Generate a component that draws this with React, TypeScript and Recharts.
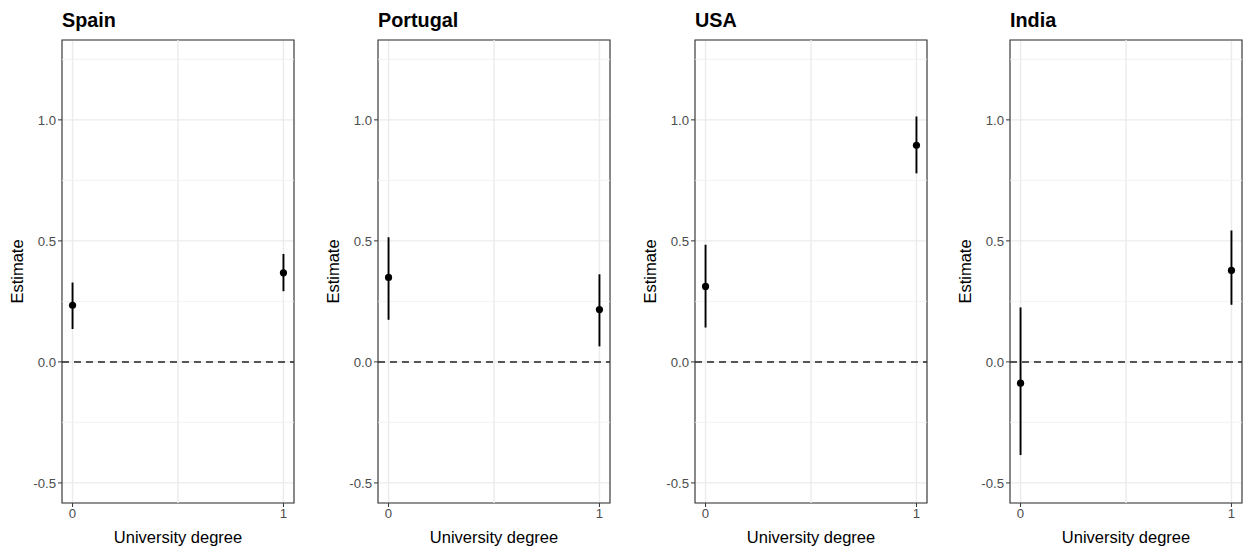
import { ScatterChart, Scatter, XAxis, YAxis, CartesianGrid, ReferenceLine, ReferenceArea, ErrorBar } from "recharts";

const countries = ["Spain", "Portugal", "USA", "India"];
const degree = [0, 1];

const estimates = [
  [0.234, 0.368],
  [0.349, 0.216],
  [0.312, 0.895],
  [-0.088, 0.378],
];
const lower = [
  [0.136, 0.292],
  [0.174, 0.064],
  [0.142, 0.779],
  [-0.385, 0.236],
];
const upper = [
  [0.328, 0.446],
  [0.515, 0.362],
  [0.484, 1.014],
  [0.225, 0.543],
];

const yTicks = [-0.5, 0, 0.5, 1];
const yMinor = [-0.25, 0.25, 0.75, 1.25];
const xTicks = [0, 1];
const xMinor = [0.5];

const X_DOMAIN: [number, number] = [-0.05, 1.05];
const Y_DOMAIN: [number, number] = [-0.583, 1.33];
const FONT = "'Liberation Sans', Arial, Helvetica, sans-serif";
const panelLeft = [0, 316, 633, 948];

function Panel({ idx }: { idx: number }) {
  const data = degree.map((d, j) => ({
    x: d,
    y: estimates[idx][j],
    err: [estimates[idx][j] - lower[idx][j], upper[idx][j] - estimates[idx][j]],
  }));

  return (
    <div style={{ position: "absolute", left: panelLeft[idx], top: 0, width: 316, height: 548 }}>
      <div
        style={{
          position: "absolute",
          left: 62,
          top: 11,
          fontFamily: FONT,
          fontWeight: "bold",
          fontSize: 19.8,
          lineHeight: "19.8px",
          color: "#000",
          whiteSpace: "nowrap",
        }}
      >
        {countries[idx]}
      </div>
      <ScatterChart width={316} height={548} margin={{ top: 40, right: 22, bottom: 0, left: 0 }}>
        <CartesianGrid stroke="#ebebeb" strokeWidth={1.4} />
        {yMinor.map((v) => (
          <ReferenceLine key={"ym" + v} y={v} stroke="#f0f0f0" strokeWidth={0.8} />
        ))}
        {xMinor.map((v) => (
          <ReferenceLine key={"xm" + v} x={v} stroke="#ebebeb" strokeWidth={1.4} />
        ))}
        <XAxis
          type="number"
          dataKey="x"
          domain={X_DOMAIN}
          ticks={xTicks}
          allowDataOverflow
          height={45}
          axisLine={false}
          tickLine={{ stroke: "#333" }}
          tickSize={4}
          tick={{ fill: "#4d4d4d", fontSize: 13.2, fontFamily: FONT }}
          label={{
            value: "University degree",
            position: "insideBottom",
            offset: 5,
            style: { fill: "#000", fontSize: 16.5, fontFamily: FONT },
          }}
        />
        <YAxis
          type="number"
          dataKey="y"
          domain={Y_DOMAIN}
          ticks={yTicks}
          allowDataOverflow
          width={62}
          axisLine={false}
          tickLine={{ stroke: "#333" }}
          tickSize={4}
          tickFormatter={(v: number) => v.toFixed(1)}
          tick={{ fill: "#4d4d4d", fontSize: 13.2, fontFamily: FONT }}
          label={{
            value: "Estimate",
            angle: -90,
            position: "insideLeft",
            offset: 17,
            style: { fill: "#000", fontSize: 16.5, fontFamily: FONT, textAnchor: "middle" },
          }}
        />
        <ReferenceLine y={0} stroke="#222" strokeWidth={1.5} strokeDasharray="7 5" />
        <Scatter data={data} fill="#000" isAnimationActive={false} shape={(p: any) => <circle cx={p.cx} cy={p.cy} r={3.6} fill="#000" />}>
          <ErrorBar dataKey="err" direction="y" width={0} stroke="#000" strokeWidth={1.9} isAnimationActive={false} />
        </Scatter>
        <ReferenceArea
          x1={X_DOMAIN[0]}
          x2={X_DOMAIN[1]}
          y1={Y_DOMAIN[0]}
          y2={Y_DOMAIN[1]}
          fill="none"
          fillOpacity={0}
          stroke="#333"
          strokeWidth={1.1}
          strokeOpacity={1}
        />
      </ScatterChart>
    </div>
  );
}

export default function App() {
  return (
    <div style={{ position: "absolute", left: 0, top: 0, width: 1247, height: 548, background: "#fff" }}>
      {countries.map((c, i) => (
        <Panel key={c} idx={i} />
      ))}
    </div>
  );
}
